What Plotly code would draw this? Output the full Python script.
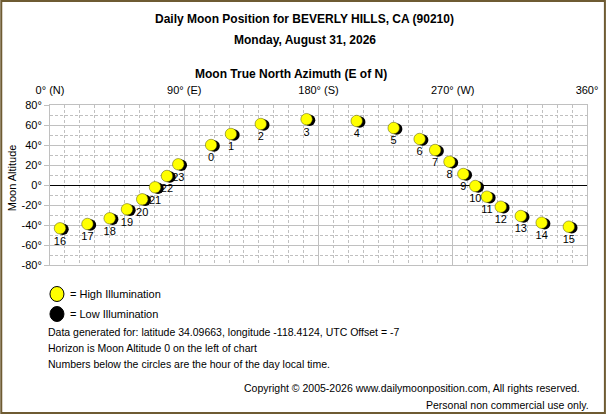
import plotly.graph_objects as go

# moon positions by local hour (azimuth deg E of N, altitude deg)
hours = [16, 17, 18, 19, 20, 21, 22, 23, 0, 1, 2, 3, 4, 5, 6, 7, 8, 9, 10, 11, 12, 13, 14, 15]
azimuth = [6.7, 25.1, 40.0, 51.6, 61.8, 70.4, 78.4, 86.0, 108.0, 121.3, 141.3, 172.0,
           205.6, 230.4, 247.8, 258.2, 267.8, 277.1, 285.1, 292.9, 302.2, 315.6, 329.6, 347.8]
altitude = [-43.3, -39.0, -33.3, -24.3, -14.3, -2.3, 9.0, 20.7, 40.0, 51.0, 61.0, 65.8,
            64.0, 57.0, 46.0, 35.0, 23.3, 11.0, -1.0, -11.7, -21.7, -31.0, -37.7, -41.7]

x_tickvals = [0, 90, 180, 270, 360]
x_ticktext = ['0° (N)', '90° (E)', '180° (S)', '270° (W)', '360°']
y_tickvals = [80, 60, 40, 20, 0, -20, -40, -60, -80]
y_ticktext = [f'{v}°' for v in y_tickvals]

W, H = 610, 415
L, R, T, B = 50, 20, 105, 150
PW, PH = W - L - R, H - T - B
FONT = 'Liberation Sans'
GRID = '#C0C0C0'


def px(x):
    return (x - L) / PW


def py(y):
    return (H - B - y) / PH


fig = go.Figure()

# empty trace so the main (grid) axes get drawn
fig.add_trace(go.Scatter(x=[None], y=[None], mode='markers', hoverinfo='skip', showlegend=False))

# shadow, drawn on an axis pair offset by a few pixels
fig.add_trace(go.Scatter(
    x=azimuth, y=altitude, xaxis='x2', yaxis='y2', mode='markers',
    marker=dict(size=11.5, color='#000000', line=dict(width=0)),
    hoverinfo='skip', showlegend=False
))

fig.add_trace(go.Scatter(
    x=azimuth, y=altitude, xaxis='x3', yaxis='y3', mode='markers+text',
    marker=dict(size=11.5, color='#FFFF00', line=dict(color='#555500', width=0.5)),
    text=[str(h) for h in hours], textposition='bottom center',
    textfont=dict(family=FONT, size=11, color='#000000'),
    hovertemplate='Hour %{text}<br>Az %{x}°<br>Alt %{y}°<extra></extra>',
    showlegend=False, cliponaxis=False
))

fig.update_layout(
    width=W, height=H,
    margin=dict(l=L, r=R, t=T, b=B),
    paper_bgcolor='#FFFFFF',
    plot_bgcolor='#FFFFFF',
    font=dict(family=FONT, size=10.5, color='#000000'),
    xaxis=dict(
        range=[0, 360], side='top', tickmode='array',
        tickvals=x_tickvals, ticktext=x_ticktext, ticks='', ticklabelstandoff=6,
        showgrid=True, gridcolor=GRID, gridwidth=1,
        minor=dict(dtick=10, tick0=0, showgrid=True, gridcolor=GRID, griddash='3px,2px'),
        showline=True, linecolor=GRID, mirror=True, zeroline=False,
        tickfont=dict(size=11)
    ),
    yaxis=dict(
        range=[-80, 80], tickmode='array', tickvals=y_tickvals, ticktext=y_ticktext,
        ticks='outside', ticklen=5, tickcolor=GRID,
        showgrid=True, gridcolor=GRID, gridwidth=1,
        minor=dict(dtick=10, tick0=0, showgrid=True, gridcolor=GRID, griddash='3px,2px'),
        showline=True, linecolor=GRID, mirror=True,
        zeroline=True, zerolinecolor='#000000', zerolinewidth=1,
        tickfont=dict(size=11)
    ),
    # 3 px right, 1 px down
    xaxis2=dict(range=[-2, 358], overlaying='x', visible=False),
    yaxis2=dict(range=[-79, 81], overlaying='y', visible=False),
    xaxis3=dict(range=[0, 360], overlaying='x', visible=False),
    yaxis3=dict(range=[-80, 80], overlaying='y', visible=False),
    showlegend=False,
)

# frame round the whole picture
fig.add_shape(type='rect', xref='paper', yref='paper',
              x0=px(1), x1=px(608), y0=py(413), y1=py(1),
              line=dict(color='#6E5B32', width=2), layer='below')

# legend circles
fig.add_shape(type='circle', xref='paper', yref='paper', xsizemode='pixel', ysizemode='pixel',
              xanchor=px(57), yanchor=py(294), x0=-7, x1=7, y0=-7.5, y1=7.5,
              fillcolor='#FFFF00', line=dict(color='#000000', width=1))
fig.add_shape(type='circle', xref='paper', yref='paper', xsizemode='pixel', ysizemode='pixel',
              xanchor=px(57), yanchor=py(314), x0=-7, x1=7, y0=-7.5, y1=7.5,
              fillcolor='#000000', line=dict(color='#000000', width=1))


def note(text, x, y, xanchor='left', size=10.5, bold=False, angle=0):
    fig.add_annotation(
        text=f'<b>{text}</b>' if bold else text,
        x=px(x), y=py(y), xref='paper', yref='paper',
        xanchor=xanchor, yanchor='middle', showarrow=False, textangle=angle,
        font=dict(family=FONT, size=size, color='#000000')
    )


note('Daily Moon Position for BEVERLY HILLS, CA (90210)', 306, 19, 'center', 12, True)
note('Monday, August 31, 2026', 306, 40, 'center', 12, True)
note('Moon True North Azimuth (E of N)', 292, 74, 'center', 12, True)
note('Moon Altitude', 12, 178, 'center', 11, angle=-90)
note('= High Illumination', 68, 294, size=11)
note('= Low Illumination', 68, 314, size=11)
note('Data generated for: latitude 34.09663, longitude -118.4124, UTC Offset = -7', 46, 332)
note('Horizon is Moon Altitude 0 on the left of chart', 46, 348)
note('Numbers below the circles are the hour of the day local time.', 46, 364)
note('Copyright © 2005-2026 www.dailymoonposition.com, All rights reserved.', 585, 388, 'right')
note('Personal non commercial use only.', 594, 405, 'right')

fig.write_html('out.html', config={'displayModeBar': False},
               post_script="document.body.style.margin='0';")
